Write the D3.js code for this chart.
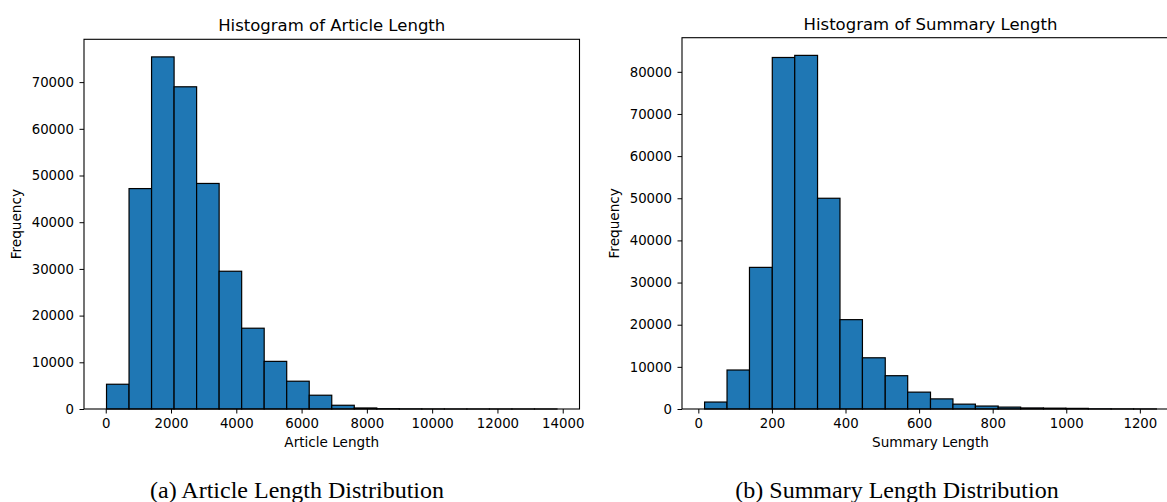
<!DOCTYPE html>
<html>

<head>
    <meta charset="utf-8">
    <title>Article and Summary Length Distribution</title>
    <script src="https://d3js.org/d3.v7.min.js"></script>
    <style>
        body {
            margin: 0;
            background: #fff;
        }

        svg text {
            font-family: "DejaVu Sans", sans-serif;
            fill: #000;
        }

        svg .caption {
            font-family: "Liberation Serif", "Times New Roman", serif;
        }
    </style>
</head>

<body>
    <div id="chart"></div>

    <script>
        // Article length histogram: bin edges and counts per bin
        var articleEdges = [24, 714, 1404, 2094, 2784, 3474, 4164, 4854, 5544, 6234, 6924,
            7614, 8304, 8994, 9684, 10374, 11064, 11754, 12444, 13134, 13824];
        var articleCounts = [5300, 47200, 75400, 69000, 48300, 29500, 17300, 10200, 5950, 2950,
            800, 220, 60, 25, 10, 5, 3, 2, 1, 1];
        var articleXTicks = [0, 2000, 4000, 6000, 8000, 10000, 12000, 14000];
        var articleYTicks = [0, 10000, 20000, 30000, 40000, 50000, 60000, 70000];

        // Summary length histogram
        var summaryEdges = [17, 78, 139, 201, 262, 324, 385, 446, 508, 569, 631,
            692, 753, 815, 876, 938, 999, 1060, 1122, 1183, 1245];
        var summaryCounts = [1650, 9250, 33600, 83400, 83900, 50000, 21200, 12150, 7900, 4000,
            2400, 1150, 700, 450, 250, 200, 150, 40, 20, 10];
        var summaryXTicks = [0, 200, 400, 600, 800, 1000, 1200];
        var summaryYTicks = [0, 10000, 20000, 30000, 40000, 50000, 60000, 70000, 80000];

        var svg = d3.select("#chart").append("svg")
            .attr("width", 1167)
            .attr("height", 502);

        // draws one matplotlib-like histogram panel
        function createHistogram(opts) {
            var edges = opts.edges, counts = opts.counts;
            var span = edges[edges.length - 1] - edges[0];

            var x = d3.scaleLinear()
                .domain([edges[0] - span * 0.05, edges[edges.length - 1] + span * 0.05])
                .range([opts.left, opts.right]);
            var y = d3.scaleLinear()
                .domain([0, d3.max(counts) * 1.05])
                .range([opts.bottom, opts.top]);

            var bins = counts.map((c, i) => ({ x0: edges[i], x1: edges[i + 1], n: c }));

            var g = svg.append("g");

            // bars
            g.selectAll(".bar")
                .data(bins)
                .enter().append("rect")
                .attr("class", "bar")
                .attr("x", d => x(d.x0))
                .attr("y", d => y(d.n))
                .attr("width", d => x(d.x1) - x(d.x0))
                .attr("height", d => opts.bottom - y(d.n))
                .attr("fill", "#1f77b4")
                .attr("stroke", "#000")
                .attr("stroke-width", 1.2);

            // x axis
            var xAxis = g.append("g")
                .attr("transform", `translate(0,${opts.bottom})`)
                .call(d3.axisBottom(x).tickValues(opts.xTicks).tickFormat(d3.format("d"))
                    .tickSizeInner(4.5).tickSizeOuter(0).tickPadding(5.5));
            xAxis.select(".domain").remove();
            xAxis.selectAll("text").attr("font-size", 13.3).attr("font-family", "DejaVu Sans");
            xAxis.selectAll("line").attr("stroke", "#000");

            // y axis
            var yAxis = g.append("g")
                .attr("transform", `translate(${opts.left},0)`)
                .call(d3.axisLeft(y).tickValues(opts.yTicks).tickFormat(d3.format("d"))
                    .tickSizeInner(4.5).tickSizeOuter(0).tickPadding(5.5));
            yAxis.select(".domain").remove();
            yAxis.selectAll("text").attr("font-size", 13.3).attr("font-family", "DejaVu Sans");
            yAxis.selectAll("line").attr("stroke", "#000");

            // frame (spines)
            g.append("rect")
                .attr("x", opts.left)
                .attr("y", opts.top)
                .attr("width", opts.right - opts.left)
                .attr("height", opts.bottom - opts.top)
                .attr("fill", "none")
                .attr("stroke", "#000")
                .attr("stroke-width", 1.1);

            var cx = (opts.left + opts.right) / 2;

            // title
            g.append("text")
                .attr("x", cx)
                .attr("y", opts.top - 8)
                .attr("text-anchor", "middle")
                .attr("font-size", 16.5)
                .text(opts.title);

            // x label
            g.append("text")
                .attr("x", cx)
                .attr("y", 447)
                .attr("text-anchor", "middle")
                .attr("font-size", 13.6)
                .text(opts.xLabel);

            // y label
            g.append("text")
                .attr("transform", `translate(${opts.yLabelX},${(opts.top + opts.bottom) / 2}) rotate(-90)`)
                .attr("text-anchor", "middle")
                .attr("font-size", 13.6)
                .text("Frequency");

            // figure caption below the panel
            svg.append("text")
                .attr("class", "caption")
                .attr("x", opts.captionX)
                .attr("y", 498)
                .attr("text-anchor", "middle")
                .attr("font-size", 24)
                .text(opts.caption);
        }

        createHistogram({
            edges: articleEdges, counts: articleCounts,
            xTicks: articleXTicks, yTicks: articleYTicks,
            left: 84, right: 579.5, top: 39.3, bottom: 409,
            title: "Histogram of Article Length", xLabel: "Article Length",
            yLabelX: 21, captionX: 297, caption: "(a) Article Length Distribution"
        });

        createHistogram({
            edges: summaryEdges, counts: summaryCounts,
            xTicks: summaryXTicks, yTicks: summaryYTicks,
            left: 682, right: 1179, top: 37.7, bottom: 409,
            title: "Histogram of Summary Length", xLabel: "Summary Length",
            yLabelX: 619, captionX: 897, caption: "(b) Summary Length Distribution"
        });
    </script>
</body>

</html>
